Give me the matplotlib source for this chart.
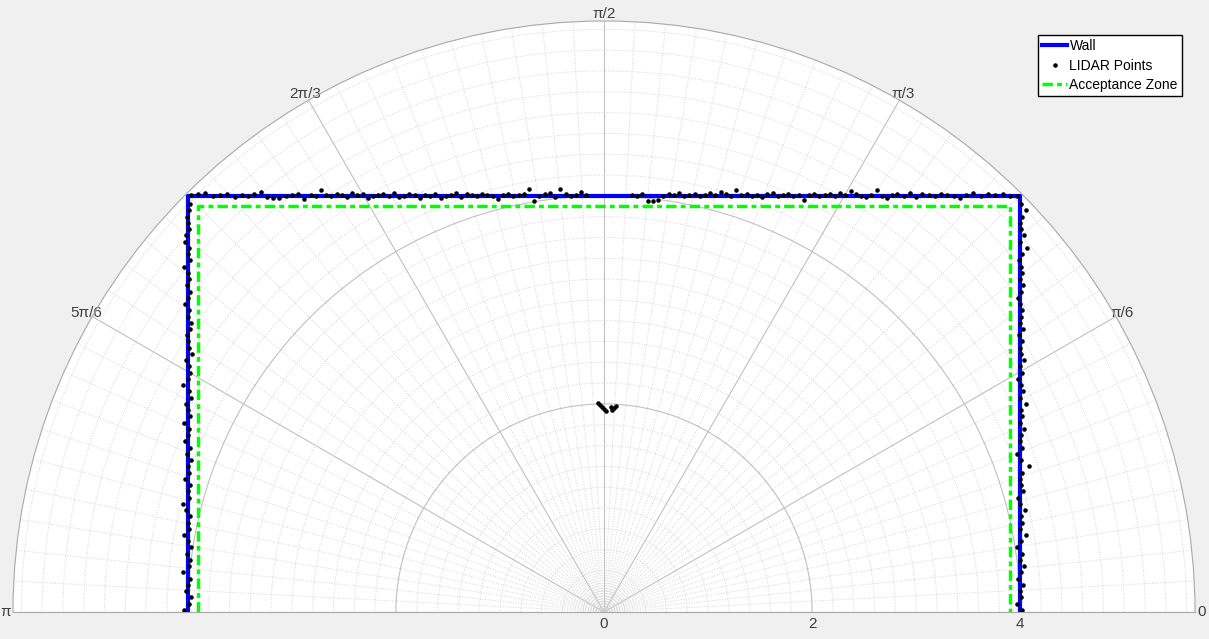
import numpy as np
from matplotlib import pyplot as plt

plt.rcParams['font.family'] = ['Liberation Sans', 'DejaVu Sans']

# wall and acceptance zone corners (x, y in metres)
wall_x = [-4.0, -4.0, 4.0, 4.0]
wall_y = [0.0, 4.0, 4.0, 0.0]
zone_x = [-3.9, -3.9, 3.9, 3.9]
zone_y = [0.0, 3.9, 3.9, 0.0]

# LIDAR hits on the top wall: position along x and offset from y=4 (cm)
top_x_left = [-3.97, -3.90, -3.83, -3.76, -3.69, -3.62, -3.55, -3.48, -3.42, -3.36,
              -3.30, -3.24, -3.18, -3.12, -3.06, -3.00, -2.94, -2.88, -2.82, -2.77,
              -2.72, -2.67, -2.62, -2.57, -2.52, -2.47, -2.42, -2.37, -2.32, -2.27,
              -2.22, -2.17, -2.12, -2.07, -2.02, -1.97, -1.92, -1.87, -1.82, -1.77,
              -1.72, -1.67, -1.62, -1.57, -1.52, -1.47, -1.42, -1.37, -1.32, -1.27,
              -1.22, -1.17, -1.12, -1.07, -1.02, -0.97, -0.92, -0.87, -0.82, -0.77,
              -0.72, -0.67, -0.62, -0.57, -0.52, -0.47, -0.42, -0.37, -0.32, -0.27,
              -0.22, -0.17]
top_dy_left = [1, 2, 3, 0, 1, 2, -1, 1, 0, 2,
               4, -1, -2, -2, 0, 1, 2, -3, 1, 0,
               6, 1, 0, 2, 1, -1, 3, 1, 2, -2,
               0, 1, 2, 0, 3, -1, 0, 2, 1, -2,
               1, 0, 2, -2, 0, 1, 3, -1, 2, 1,
               0, 2, 1, 0, -3, 1, 2, 0, 1, 2,
               7, -5, 0, 2, 3, -1, 7, 2, 0, 1,
               4, 1]
top_x_right = [0.27, 0.32, 0.37, 0.42, 0.47, 0.52, 0.57, 0.62, 0.67, 0.72,
               0.77, 0.82, 0.87, 0.92, 0.97, 1.02, 1.07, 1.12, 1.17, 1.22,
               1.27, 1.32, 1.37, 1.42, 1.47, 1.52, 1.57, 1.62, 1.67, 1.72,
               1.77, 1.82, 1.87, 1.92, 1.97, 2.02, 2.07, 2.12, 2.17, 2.22,
               2.27, 2.32, 2.37, 2.42, 2.47, 2.52, 2.57, 2.62, 2.67, 2.72,
               2.77, 2.82, 2.88, 2.94, 3.00, 3.06, 3.12, 3.18, 3.24, 3.30,
               3.36, 3.42, 3.48, 3.55, 3.62, 3.69, 3.76, 3.83, 3.90, 3.97]
top_dy_right = [1, 0, 2, -5, -5, -4, 0, 2, 1, 3,
                0, 1, 2, 0, 1, 3, 1, 4, 2, 0,
                6, 1, 2, 0, 1, -1, 2, 3, 0, 1,
                2, 0, 1, -4, 1, 2, 0, 1, 2, 0,
                3, 1, 5, 2, 0, -1, 1, 6, 0, -2,
                1, 2, 0, 3, -1, 2, 1, 0, 2, 1,
                0, -2, 1, 3, 0, 2, 1, 2, 0, 0]

# LIDAR hits on the side walls: height y and offset outward from |x|=4 (cm)
side_y = [0.02, 0.08, 0.14, 0.20, 0.26, 0.32, 0.38, 0.44, 0.50, 0.56,
          0.62, 0.68, 0.74, 0.80, 0.86, 0.92, 0.98, 1.04, 1.10, 1.16,
          1.22, 1.28, 1.34, 1.40, 1.46, 1.52, 1.58, 1.64, 1.70, 1.76,
          1.82, 1.88, 1.94, 2.00, 2.06, 2.12, 2.18, 2.24, 2.30, 2.36,
          2.42, 2.48, 2.54, 2.60, 2.66, 2.72, 2.78, 2.84, 2.90, 2.96,
          3.02, 3.08, 3.14, 3.20, 3.26, 3.32, 3.38, 3.44, 3.50, 3.56,
          3.62, 3.68, 3.74, 3.80, 3.86, 3.92]
left_dx = [4, -1, -3, 2, 0, -2, 5, -1, -2, 1,
           -3, 0, 4, -1, 0, -2, 2, 5, -1, 0,
           -2, 3, -1, 0, -3, 1, -2, 3, 0, -1,
           4, -2, 0, 2, -3, -1, 5, 0, -2, -1,
           2, -4, -1, 0, 1, -2, -3, 0, -1, 3,
           0, -2, 1, -1, 0, 4, -2, 0, -1, 3,
           2, -1, 0, 1, -1, -2]
right_dx = [2, -3, 1, 0, 3, -2, 1, 4, 0, 2,
            -3, 1, 6, 0, 2, 1, 5, 0, -2, 3,
            1, 0, 2, 8, 1, -3, 2, 0, 1, 4,
            0, 2, 1, 6, 0, 3, 1, -2, 2, 0,
            4, 1, 0, 2, -1, 3, 0, 1, 2, 0,
            -2, 1, 3, 0, 2, 1, -1, 2, 7, 0,
            4, 1, 0, 2, 6, 1]

# small obstacle in front of the sensor
obst_x = [-0.06, -0.04, -0.02, 0.00, 0.02, 0.07, 0.10, 0.08, 0.12]
obst_y = [2.01, 1.99, 1.97, 1.95, 1.93, 1.97, 1.96, 1.94, 1.98]

theta_ticks_deg = [0, 30, 60, 90, 120, 150, 180]
theta_labels = ['0', 'π/6', 'π/3', 'π/2', '2π/3', '5π/6', 'π']
r_ticks = [0, 2, 4]
r_max = 5.68


def to_polar(x, y):
    x = np.asarray(x, dtype=float)
    y = np.asarray(y, dtype=float)
    return np.arctan2(y, x), np.hypot(x, y)


# collect all lidar points in cartesian
pts_x = (top_x_left + top_x_right
         + [-4.0 - d / 100 for d in left_dx]
         + [4.0 + d / 100 for d in right_dx]
         + obst_x)
pts_y = ([4.0 + d / 100 for d in top_dy_left]
         + [4.0 + d / 100 for d in top_dy_right]
         + side_y + side_y + obst_y)

fig = plt.figure(figsize=(12.09, 6.39), dpi=100, facecolor='#f0f0f0')
# half-disc wedge sits in the middle band of a square box
side = 1182
mid_y = (21 + 612) / 2
ax = fig.add_axes([13 / 1209, (639 - mid_y - side / 2) / 639, side / 1209, side / 639],
                  projection='polar')
ax.set_facecolor('white')
ax.set_thetamin(0)
ax.set_thetamax(180)
ax.set_rlim(0, r_max)

th, r = to_polar(wall_x, wall_y)
ax.plot(th, r, color='#0000ff', lw=3, label='Wall', zorder=3)
th, r = to_polar(pts_x, pts_y)
ax.plot(th, r, ls='none', marker='.', ms=4.5, color='black', label='LIDAR Points', zorder=4)
th, r = to_polar(zone_x, zone_y)
ax.plot(th, r, color='#00ff00', lw=2.5, ls=(0, (3, 1.2, 1.4, 1.2)),
        label='Acceptance Zone', zorder=3)

# grid
ax.set_xticks(np.deg2rad(theta_ticks_deg))
ax.set_xticklabels(theta_labels)
ax.set_xticks(np.deg2rad(np.arange(0, 181, 3)), minor=True)
ax.set_yticks(r_ticks)
ax.set_yticks(np.arange(0.2, r_max, 0.2), minor=True)
ax.grid(which='major', color='#c0c0c0', lw=0.8, ls='-')
ax.grid(which='minor', color='#d4d4d4', lw=0.7, ls=':')
ax.tick_params(which='both', length=0)
ax.tick_params(axis='x', labelsize=11, labelcolor='#404040', pad=-2)
ax.tick_params(axis='y', labelsize=11, labelcolor='#404040')
for sp in ax.spines.values():
    sp.set_color('#a8a8a8')
    sp.set_linewidth(0.8)

ax.legend(loc='upper right', bbox_to_anchor=(1182 / 1209, 1 - 35 / 639),
          bbox_transform=fig.transFigure, fancybox=False, framealpha=1,
          edgecolor='black', fontsize=10, borderpad=0.3, handlelength=1.8,
          handletextpad=0.15, labelspacing=0.4, borderaxespad=0)

fig.savefig('out.png', dpi=100, facecolor=fig.get_facecolor())
